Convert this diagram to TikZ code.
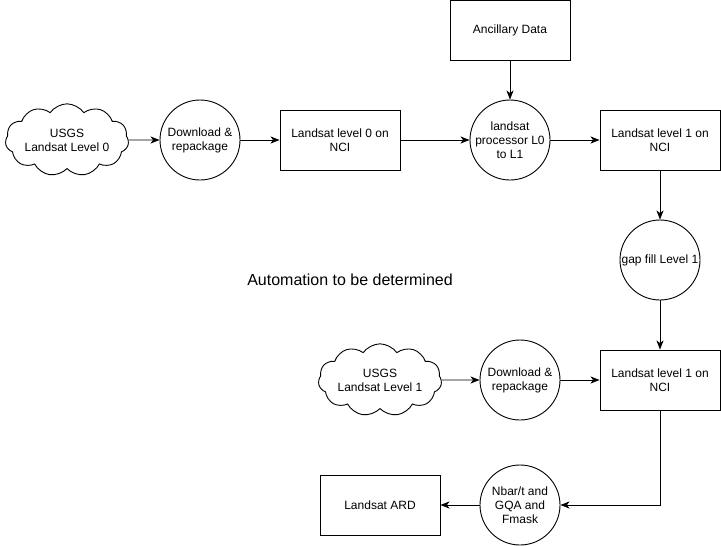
\documentclass[tikz,border=0pt]{standalone}
\usepackage{fontspec}
\setmainfont{Liberation Sans}
\usetikzlibrary{arrows.meta,shapes.symbols}

\tikzset{
  lbl/.style={font=\fontsize{12}{14}\selectfont, align=center},
  box/.style={lbl, draw, line width=0.9pt, minimum width=120pt, minimum height=60pt, inner sep=0pt},
  proc/.style={lbl, draw, line width=0.9pt, circle, minimum size=80pt, inner sep=0pt},
  src/.style={lbl, draw, line width=0.9pt, cloud, cloud puffs=11, cloud puff arc=110, aspect=2.1, minimum width=112pt, minimum height=52pt, inner sep=0pt},
  flow/.style={line width=0.9pt, -{Stealth[length=9pt, width=7pt, inset=2.5pt]}}
}

\begin{document}
\begin{tikzpicture}[x=1pt, y=-1pt]

      \useasboundingbox (0,0) rectangle (721,546);

      % top row
      \node[src]  (usgs0) at (67,140) {USGS\\Landsat Level 0};
      \node[proc] (dl0)   at (200,140) {Download \&\\repackage};
      \node[box]  (lz)    at (340,140) {Landsat level 0 on\\NCI};
      \node[box]  (anc)   at (510,30) {Ancillary Data};
      \node[proc] (l0l1)  at (510,140) {landsat\\processor L0\\to L1};
      \node[box]  (lone)  at (660,140) {Landsat level 1 on\\NCI};
      \node[proc] (gap)   at (660,260) {gap fill Level 1};

      \node[font=\fontsize{16}{18}\selectfont] (auto) at (350,280) {Automation to be determined};

      % bottom part
      \node[src]  (usgs1) at (380,380) {USGS\\Landsat Level 1};
      \node[proc] (dl1)   at (520,380) {Download \&\\repackage};
      \node[box]  (ltwo)  at (660,380) {Landsat level 1 on\\NCI};
      \node[proc] (nbar)  at (520,505) {Nbar/t and\\GQA and\\Fmask};
      \node[box]  (ard)   at (380,505) {Landsat ARD};

      \draw[flow] (usgs0) -- (dl0);
      \draw[flow] (dl0) -- (lz);
      \draw[flow] (lz) -- (l0l1);
      \draw[flow] (anc) -- (l0l1);
      \draw[flow] (l0l1) -- (lone);
      \draw[flow] (lone) -- (gap);
      \draw[flow] (gap) -- (ltwo);
      \draw[flow] (usgs1) -- (dl1);
      \draw[flow] (dl1) -- (ltwo);
      \draw[flow] (ltwo) |- (nbar);
      \draw[flow] (nbar) -- (ard);

    \end{tikzpicture}
\end{document}
